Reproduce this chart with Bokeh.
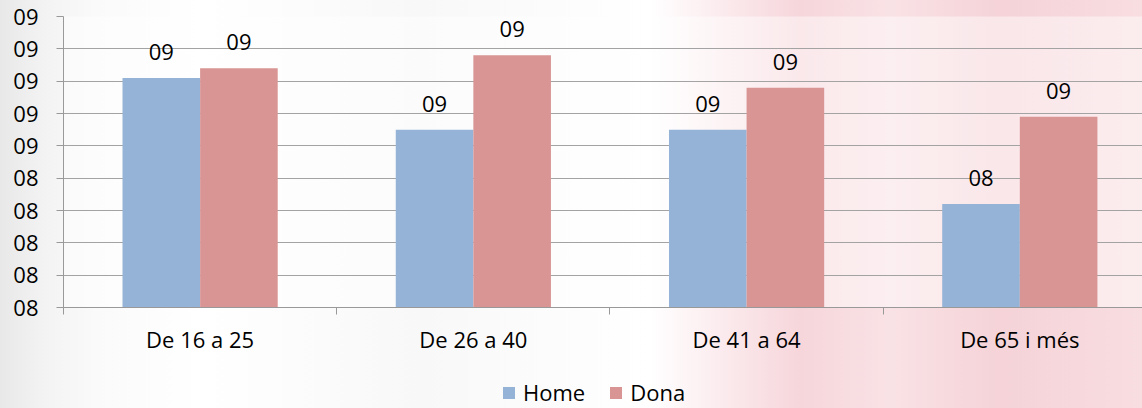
from bokeh.plotting import figure
from bokeh.layouts import column
from bokeh.models import (Range1d, FixedTicker, CustomJSTickFormatter, ColumnDataSource,
                          Legend, LegendItem, InlineStyleSheet, GlobalInlineStyleSheet)
from bokeh.core.properties import value
from bokeh.embed import file_html
from bokeh.resources import INLINE

# ---- data ----
categories = ["De 16 a 25", "De 26 a 40", "De 41 a 64", "De 65 i més"]
series_names = ["Home", "Dona"]
home = [8.71, 8.55, 8.55, 8.32]
dona = [8.74, 8.78, 8.68, 8.59]
y_ticks = [8.0, 8.1, 8.2, 8.3, 8.4, 8.5, 8.6, 8.7, 8.8, 8.9]

FONT = "Open Sans"
FS = "22px"
HOME_COLOR = "#95B3D7"
DONA_COLOR = "#D99594"
GRID = "#a3a3a3"
AXIS = "#999999"
BG_CSS = """:host {
  background: linear-gradient(90deg, #e8e8e8 0px, #f3f3f3 45px, #fafafa 95px, #ffffff 200px,
     #f8f8f8 420px, #ffffff 650px, #fbeaed 725px, #f6d6db 800px, #f9e2e5 890px,
     #f5d3d8 1000px, #f8dde1 1142px);
}"""

BAR_W = 0.284
centers = [i + 0.5 for i in range(len(categories))]

src_home = ColumnDataSource(dict(
    x=[c - BAR_W / 2 for c in centers], top=home,
    label=["%02.0f" % v for v in home]))
src_dona = ColumnDataSource(dict(
    x=[c + BAR_W / 2 for c in centers], top=dona,
    label=["%02.0f" % v for v in dona]))

# ---- main chart ----
p = figure(width=1142, height=356, output_backend="svg", toolbar_location=None,
           x_range=Range1d(0, 3.949), y_range=Range1d(y_ticks[0], y_ticks[-1]),
           min_border_left=63, min_border_right=0, min_border_top=16, min_border_bottom=49)

p.border_fill_alpha = 0
p.background_fill_color = "white"
p.background_fill_alpha = 0.45
p.outline_line_color = None
p.stylesheets = [
    InlineStyleSheet(css=BG_CSS),
    GlobalInlineStyleSheet(css="html, body { margin: 0; padding: 0; overflow: hidden; }"),
]

p.vbar(x="x", top="top", bottom=y_ticks[0], width=BAR_W, source=src_home,
       fill_color=HOME_COLOR, line_color=None)
p.vbar(x="x", top="top", bottom=y_ticks[0], width=BAR_W, source=src_dona,
       fill_color=DONA_COLOR, line_color=None)

for src in (src_home, src_dona):
    p.text(x="x", y="top", text="label", source=src, y_offset=-26,
           text_align="center", text_baseline="alphabetic",
           text_font=value(FONT), text_font_size=FS, text_color="black")

# y axis
p.yaxis.ticker = FixedTicker(ticks=y_ticks)
p.yaxis.formatter = CustomJSTickFormatter(code="return '0' + Math.round(tick);")
p.yaxis.major_label_text_font = FONT
p.yaxis.major_label_text_font_size = FS
p.yaxis.major_label_text_color = "black"
p.yaxis.major_label_standoff = 18
p.yaxis.major_tick_out = 7
p.yaxis.major_tick_in = 0
p.yaxis.minor_tick_line_color = None
p.yaxis.axis_line_color = AXIS
p.yaxis.major_tick_line_color = AXIS

# x axis
p.xaxis.ticker = FixedTicker(ticks=centers, minor_ticks=[0, 1, 2, 3])
p.xaxis.formatter = CustomJSTickFormatter(args=dict(labels=categories),
                                          code="return labels[Math.floor(tick)];")
p.xaxis.major_label_text_font = FONT
p.xaxis.major_label_text_font_size = FS
p.xaxis.major_label_text_color = "black"
p.xaxis.major_label_standoff = 9
p.xaxis.major_tick_out = 0
p.xaxis.major_tick_in = 0
p.xaxis.major_tick_line_color = None
p.xaxis.minor_tick_out = 7
p.xaxis.minor_tick_in = 0
p.xaxis.minor_tick_line_color = AXIS
p.xaxis.axis_line_color = AXIS

p.xgrid.visible = False
p.ygrid.ticker = FixedTicker(ticks=y_ticks)
p.ygrid.grid_line_color = GRID

# ---- legend strip (no axes) ----
pl = figure(width=1142, height=52, output_backend="svg", toolbar_location=None,
            x_range=Range1d(0, 1), y_range=Range1d(0, 1),
            x_axis_location=None, y_axis_location=None,
            min_border_left=0, min_border_right=0, min_border_top=0, min_border_bottom=0)
pl.grid.visible = False
pl.outline_line_color = None
pl.border_fill_alpha = 0
pl.background_fill_alpha = 0
pl.stylesheets = [InlineStyleSheet(css=BG_CSS)]

# zero-height stand-in bars that only carry the legend swatches' styles
lr_home = pl.vbar(x=[0.5], top=[0], bottom=0, width=0.1, fill_color=HOME_COLOR, line_color=None)
lr_dona = pl.vbar(x=[0.5], top=[0], bottom=0, width=0.1, fill_color=DONA_COLOR, line_color=None)

legend = Legend(items=[LegendItem(label=series_names[0], renderers=[lr_home]),
                       LegendItem(label=series_names[1], renderers=[lr_dona])],
                orientation="horizontal", location=(438, 1),
                padding=0, margin=0, spacing=23, label_standoff=7,
                glyph_width=15, glyph_height=15,
                label_text_font=FONT, label_text_font_size=FS, label_text_color="black",
                label_text_baseline="alphabetic",
                border_line_color=None, background_fill_alpha=0)
pl.add_layout(legend)

layout = column(p, pl, spacing=0)

open("out.html", "w").write(file_html(layout, INLINE))
